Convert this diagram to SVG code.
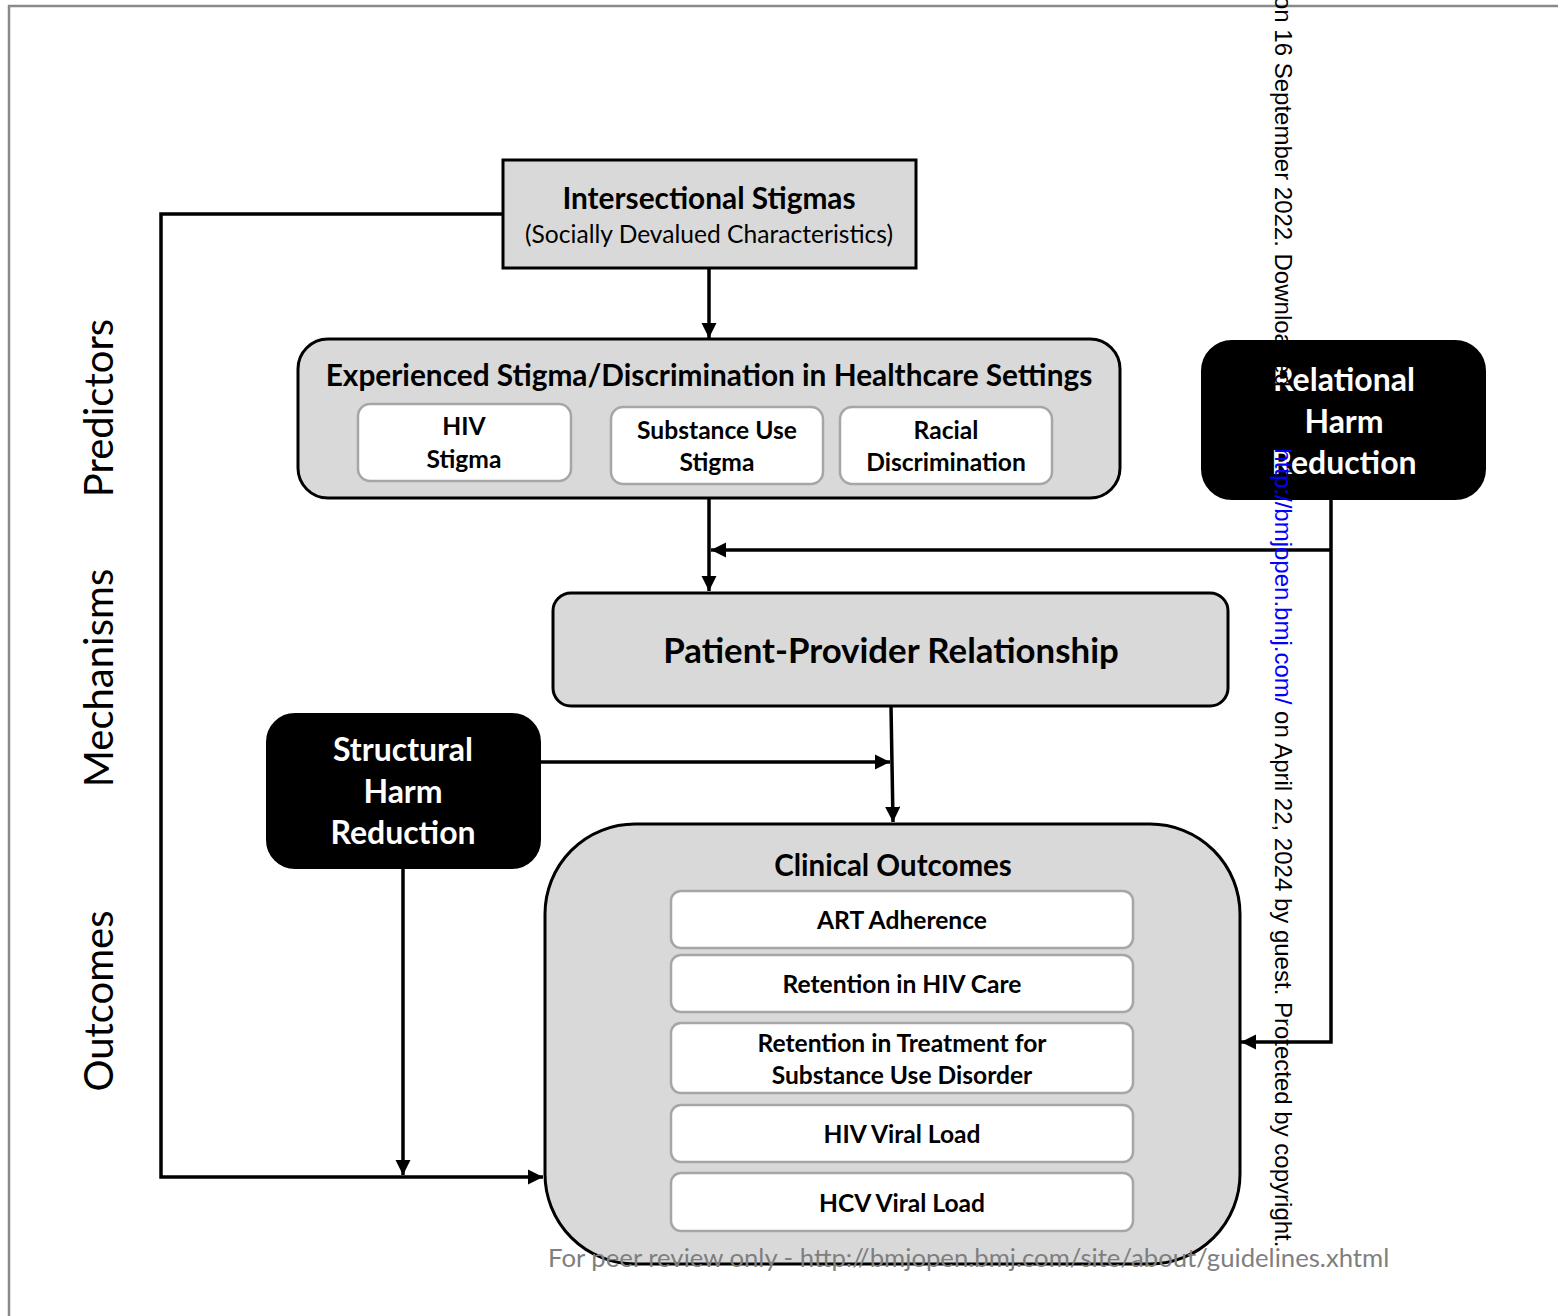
<svg xmlns="http://www.w3.org/2000/svg" width="1558" height="1316" viewBox="0 0 1558 1316">
<defs>
<style>
.gbox{fill:#d9d9d9;stroke:#000;stroke-width:3}
.wbox{fill:#fff;stroke:#a6a6a6;stroke-width:2.5}
.bbox{fill:#000;stroke:#000;stroke-width:2}
.t{font-family:Lato,"Open Sans",sans-serif;font-weight:bold;fill:#000;text-anchor:middle}
.tw{font-family:Lato,"Open Sans",sans-serif;font-weight:bold;fill:#fff;text-anchor:middle;font-size:32px}
.s{font-size:24.6px}
.side{font-family:Lato,"Open Sans",sans-serif;font-size:40px;fill:#000;text-anchor:middle}
.con{fill:none;stroke:#000;stroke-width:3.5}
</style>
<marker id="ah" viewBox="0 0 10 10" refX="10" refY="5" markerWidth="4.4" markerHeight="4.4" orient="auto" markerUnits="strokeWidth">
<path d="M0,0 L10,5 L0,10 z" fill="#000"/>
</marker>
</defs>
<rect width="1558" height="1316" fill="#fff"/>
<path d="M9,1316 V6 H1558" fill="none" stroke="#8a8a8a" stroke-width="2.5"/>

<g id="side-labels">
<text class="side" transform="translate(113,408) rotate(-90)">Predictors</text>
<text class="side" transform="translate(113,678) rotate(-90)">Mechanisms</text>
<text class="side" transform="translate(113,1001) rotate(-90)">Outcomes</text>
</g>

<g id="connectors">
<path class="con" d="M503,214 H161 V1177 H543" marker-end="url(#ah)"/>
<path class="con" d="M403,868 V1175" marker-end="url(#ah)"/>
<path class="con" d="M709,268 V338" marker-end="url(#ah)"/>
<path class="con" d="M709,498 V591" marker-end="url(#ah)"/>
<path class="con" d="M1331,550 H711" marker-end="url(#ah)"/>
<path class="con" d="M1331,499 V1042 H1241" marker-end="url(#ah)"/>
<path class="con" d="M891,706 L893,822" marker-end="url(#ah)"/>
<path class="con" d="M540,762 H890" marker-end="url(#ah)"/>
</g>

<g id="intersectional">
<rect class="gbox" x="503" y="160" width="413" height="108"/>
<text class="t" x="709" y="209" font-size="29.8">Intersectional Stigmas</text>
<text x="709" y="243" font-size="24.6" font-family="Lato,'Open Sans',sans-serif" text-anchor="middle">(Socially Devalued Characteristics)</text>
</g>

<g id="experienced">
<rect class="gbox" x="298" y="339" width="822" height="159" rx="30"/>
<text class="t" x="709" y="386" font-size="29.8">Experienced Stigma/Discrimination in Healthcare Settings</text>
</g>
<g id="hiv-stigma">
<rect class="wbox" x="358" y="404" width="213" height="77" rx="12"/>
<text class="t s" x="464" y="435">HIV</text>
<text class="t s" x="464" y="468">Stigma</text>
</g>
<g id="su-stigma">
<rect class="wbox" x="611" y="407" width="212" height="77" rx="12"/>
<text class="t s" x="717" y="439">Substance Use</text>
<text class="t s" x="717" y="471">Stigma</text>
</g>
<g id="racial">
<rect class="wbox" x="840" y="407" width="212" height="77" rx="12"/>
<text class="t s" x="946" y="439">Racial</text>
<text class="t s" x="946" y="471">Discrimination</text>
</g>

<g id="relational">
<rect class="bbox" x="1202" y="341" width="283" height="158" rx="30"/>
<text class="tw" x="1344" y="391">Relational</text>
<text class="tw" x="1344" y="433">Harm</text>
<text class="tw" x="1344" y="474">Reduction</text>
</g>

<g id="ppr">
<rect class="gbox" x="553" y="593" width="675" height="113" rx="18"/>
<text class="t" x="891" y="663" font-size="34.8">Patient-Provider Relationship</text>
</g>

<g id="structural">
<rect class="bbox" x="267" y="714" width="273" height="154" rx="28"/>
<text class="tw" x="403" y="761">Structural</text>
<text class="tw" x="403" y="803">Harm</text>
<text class="tw" x="403" y="844">Reduction</text>
</g>

<g id="clinical">
<rect class="gbox" x="545" y="824" width="695" height="440" rx="90"/>
<text class="t" x="893" y="876" font-size="29.5">Clinical Outcomes</text>
</g>
<g id="art">
<rect class="wbox" x="671" y="891" width="462" height="57" rx="10"/>
<text class="t s" x="902" y="929">ART Adherence</text>
</g>
<g id="retention-hiv">
<rect class="wbox" x="671" y="955" width="462" height="57" rx="10"/>
<text class="t s" x="902" y="993">Retention in HIV Care</text>
</g>
<g id="retention-sud">
<rect class="wbox" x="671" y="1023" width="462" height="70" rx="10"/>
<text class="t s" x="902" y="1052">Retention in Treatment for</text>
<text class="t s" x="902" y="1084">Substance Use Disorder</text>
</g>
<g id="hiv-vl">
<rect class="wbox" x="671" y="1105" width="462" height="57" rx="10"/>
<text class="t s" x="902" y="1143">HIV Viral Load</text>
</g>
<g id="hcv-vl">
<rect class="wbox" x="671" y="1173" width="462" height="58" rx="10"/>
<text class="t s" x="902" y="1212">HCV Viral Load</text>
</g>

<g id="watermark">
<text transform="translate(1275,-4) rotate(90)" font-family="'Liberation Sans',Arial,sans-serif" font-size="24" fill="#000">on 16 September 2022. Downloaded from <tspan fill="#0000ff">http://bmjopen.bmj.com/</tspan> on April 22, 2024 by guest. Protected by copyright.</text>
<text x="548" y="1267" font-family="Lato,'Open Sans',sans-serif" font-size="25.7" fill="#7f7f7f">For peer review only - http://bmjopen.bmj.com/site/about/guidelines.xhtml</text>
</g>
</svg>
